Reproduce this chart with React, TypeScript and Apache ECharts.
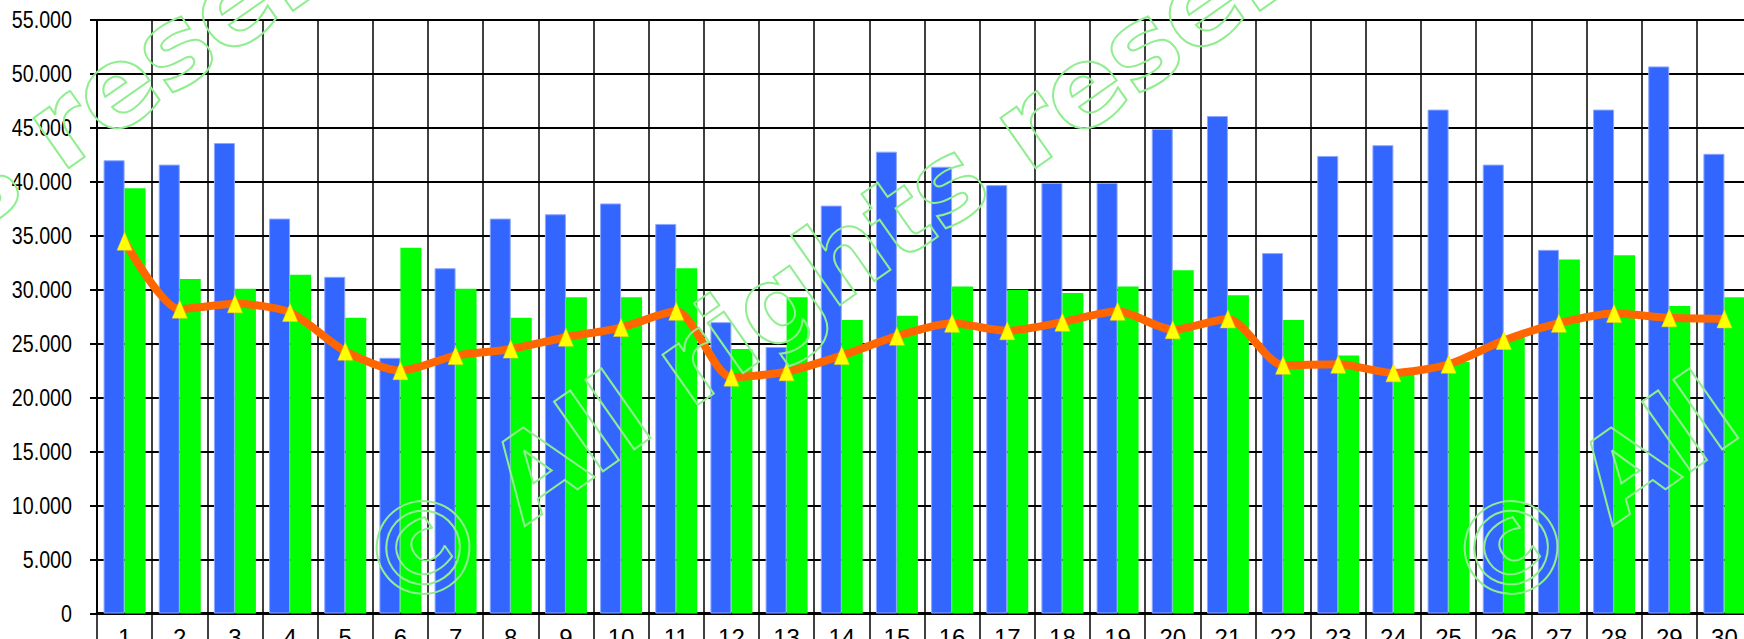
import React, { useEffect, useRef } from "react";
import * as echarts from "echarts";

const categories = [
  "1", "2", "3", "4", "5", "6", "7", "8", "9", "10",
  "11", "12", "13", "14", "15", "16", "17", "18", "19", "20",
  "21", "22", "23", "24", "25", "26", "27", "28", "29", "30",
];

const blueValues = [
  42000, 41600, 43600, 36600, 31200, 23700, 32000, 36600, 37000, 38000,
  36100, 27000, 24700, 37800, 42800, 41400, 39700, 39900, 39900, 44900,
  46100, 33400, 42400, 43400, 46700, 41600, 33700, 46700, 50700, 42600,
];

const greenValues = [
  39400, 31000, 30100, 31400, 27400, 33900, 30100, 27400, 29300, 29300,
  32000, 24500, 29300, 27200, 27600, 30300, 30000, 29700, 30300, 31800,
  29500, 27200, 23900, 22600, 23300, 25600, 32800, 33200, 28500, 29300,
];

const lineValues = [
  34500, 28200, 28700, 27900, 24300, 22500, 23900, 24500, 25600, 26500,
  28000, 21900, 22400, 23900, 25700, 26900, 26200, 27000, 28000, 26300,
  27300, 23000, 23100, 22300, 23100, 25300, 26900, 27800, 27400, 27300,
];

const yTickValues = [0, 5000, 10000, 15000, 20000, 25000, 30000, 35000, 40000, 45000, 50000, 55000];

const watermarkSymbol = "©";
const watermarkWords = "All rights reserved";

const labelFont = "'Liberation Sans', Arial, sans-serif";

function formatThousands(v: number): string {
  if (v === 0) return "0";
  const whole = Math.floor(v / 1000);
  const rest = String(Math.round(v % 1000)).padStart(3, "0");
  return `${whole}.${rest}`;
}

export default function App() {
  const ref = useRef<HTMLDivElement>(null);

  useEffect(() => {
    if (!ref.current) return;
    const chart = echarts.init(ref.current, null, { renderer: "svg" });
    const rot = (35 * Math.PI) / 180;
    const cosA = Math.cos(rot);
    const sinA = Math.sin(rot);
    const stroke = { fill: "rgba(0,0,0,0)", stroke: "#90EE90", lineWidth: 2 };
    const makeMark = (cx: number, cy: number) => {
      const gap = 95;
      return [
        {
          type: "text",
          x: cx,
          y: cy,
          rotation: rot,
          z: 100,
          silent: true,
          style: {
            text: watermarkSymbol,
            font: "bold 128px 'DejaVu Sans'",
            align: "center",
            verticalAlign: "middle",
            ...stroke,
          },
        },
        {
          type: "text",
          x: cx + gap * cosA,
          y: cy - gap * sinA,
          rotation: rot,
          z: 100,
          silent: true,
          style: {
            text: watermarkWords,
            font: "bold 112px 'DejaVu Sans'",
            align: "left",
            verticalAlign: "middle",
            ...stroke,
          },
        },
      ];
    };
    chart.setOption({
      animation: false,
      backgroundColor: "#ffffff",
      grid: {
        left: 97,
        right: -8,
        top: 20,
        bottom: 25.5,
        containLabel: false,
        outerBoundsMode: "none",
      },
      xAxis: {
        type: "category",
        data: categories,
        boundaryGap: true,
        axisLine: { show: true, lineStyle: { color: "#000", width: 3 } },
        axisTick: { show: true, interval: 0, length: 30, alignWithLabel: false, lineStyle: { color: "#000", width: 1.5 } },
        axisLabel: { interval: 0, margin: 12, fontSize: 24, fontFamily: labelFont, color: "#000" },
        splitLine: { show: true, interval: 0, lineStyle: { color: "#000", width: 1.5 } },
      },
      yAxis: {
        type: "value",
        min: 0,
        max: 55000,
        interval: 5000,
        axisLine: { show: true, lineStyle: { color: "#000", width: 2 } },
        axisTick: { show: true, length: 7, lineStyle: { color: "#000", width: 2 } },
        axisLabel: { show: false },
        splitLine: { show: true, lineStyle: { color: "#000", width: 2 } },
      },
      series: [
        {
          type: "bar",
          data: blueValues,
          barWidth: 21,
          barGap: "0%",
          itemStyle: { color: "#3366FF", borderColor: "#8fa8ff", borderWidth: 1 },
          z: 2,
        },
        {
          type: "bar",
          data: greenValues,
          barWidth: 21,
          barGap: "0%",
          itemStyle: { color: "#00FF00" },
          z: 2,
        },
        {
          type: "line",
          data: lineValues,
          smooth: 0.25,
          symbol: "triangle",
          symbolSize: [15, 18],
          lineStyle: { color: "#FF6600", width: 8 },
          itemStyle: { color: "#FFFF00", borderColor: "#FFD000", borderWidth: 0.5 },
          z: 5,
        },
      ],
    });

    // Y tick labels placed through the chart's own value scale, drawn condensed.
    const yLabels = yTickValues.map((v) => {
      const py = chart.convertToPixel({ yAxisIndex: 0 }, v) as number;
      const px = chart.convertToPixel({ xAxisIndex: 0 }, 0) as number;
      const axisX = px - (chart.convertToPixel({ xAxisIndex: 0 }, 1) as number - px) / 2;
      return {
        type: "text",
        x: axisX - 25,
        y: py,
        scaleX: 0.82,
        z: 50,
        silent: true,
        style: {
          text: formatThousands(v),
          font: `24px ${labelFont}`,
          fill: "#000",
          align: "right",
          verticalAlign: "middle",
        },
      };
    });

    chart.setOption({
      graphic: [
        ...yLabels,
        ...makeMark(424, 549),
        ...makeMark(1512, 549),
        ...makeMark(424 - 967, 549),
      ],
    });
    return () => chart.dispose();
  }, []);

  return (
    <div
      ref={ref}
      style={{ position: "fixed", left: 0, top: 0, width: 1744, height: 639, background: "#fff" }}
    />
  );
}
